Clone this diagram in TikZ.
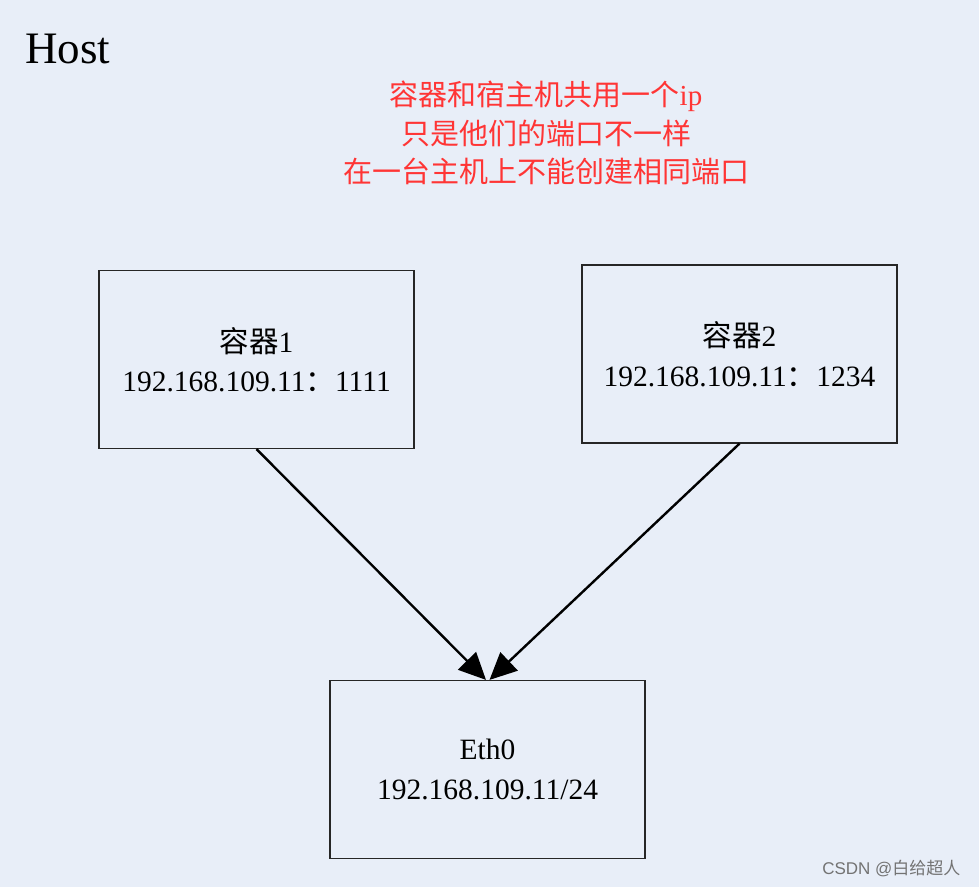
\documentclass[tikz,border=0pt]{standalone}
\usepackage{fontspec}
\setmainfont{Liberation Serif}
\newfontfamily\cjk{Noto Sans CJK SC}
\newfontfamily\wmfont{Liberation Sans}
\usetikzlibrary{arrows.meta, positioning}
\definecolor{hostbg}{HTML}{E8EEF8}
\definecolor{notered}{HTML}{FF3535}

\begin{document}
\begin{tikzpicture}[x=1pt, y=-1pt,
    box/.style  = {rectangle, draw=black!85, line width=1.2pt,
                   minimum width=315pt, minimum height=178pt,
                   align=center, font=\fontsize{29.5}{39.5}\selectfont},
    arr/.style  = {-{Triangle[length=27pt, width=25pt]}, line width=2.4pt, black},
    note/.style = {font=\cjk\fontsize{29}{38.5}\selectfont, text=notered, align=center},
]

%% ---- Background ----
\fill[hostbg] (0,0) rectangle (979,887);
\useasboundingbox (0,0) rectangle (979,887);

%% ---- Title ----
\node[anchor=base west, inner sep=0pt, font=\fontsize{45}{50}\selectfont] (host) at (25,63)
    {Host};

%% ---- Note ----
\node[note] (note) at (546,133)
    {容器和宿主机共用一个{\rmfamily ip}\\
     只是他们的端口不一样\\
     在一台主机上不能创建相同端口};

%% ---- Containers ----
\node[box] (c1) at (256.5,359.5)
    {{\cjk 容器}1\\192.168.109.11{\cjk ：}1111};
\node[box] (c2) at (739.5,354)
    {{\cjk 容器}2\\192.168.109.11{\cjk ：}1234};

%% ---- Interface ----
\node[box] (eth) at (487.5,769.5)
    {Eth0\\192.168.109.11/24};

%% ---- Arrows ----
\draw[arr] (c1.south) -- ([xshift=-1.5pt]eth.north);
\draw[arr] (c2.south) -- ([xshift=2pt]eth.north);

%% ---- Watermark ----
\node[font=\wmfont\fontsize{17}{20}\selectfont, text=black!55, anchor=east] (mark) at (964,868)
    {CSDN @{\cjk 白给超人}};

\end{tikzpicture}
\end{document}
